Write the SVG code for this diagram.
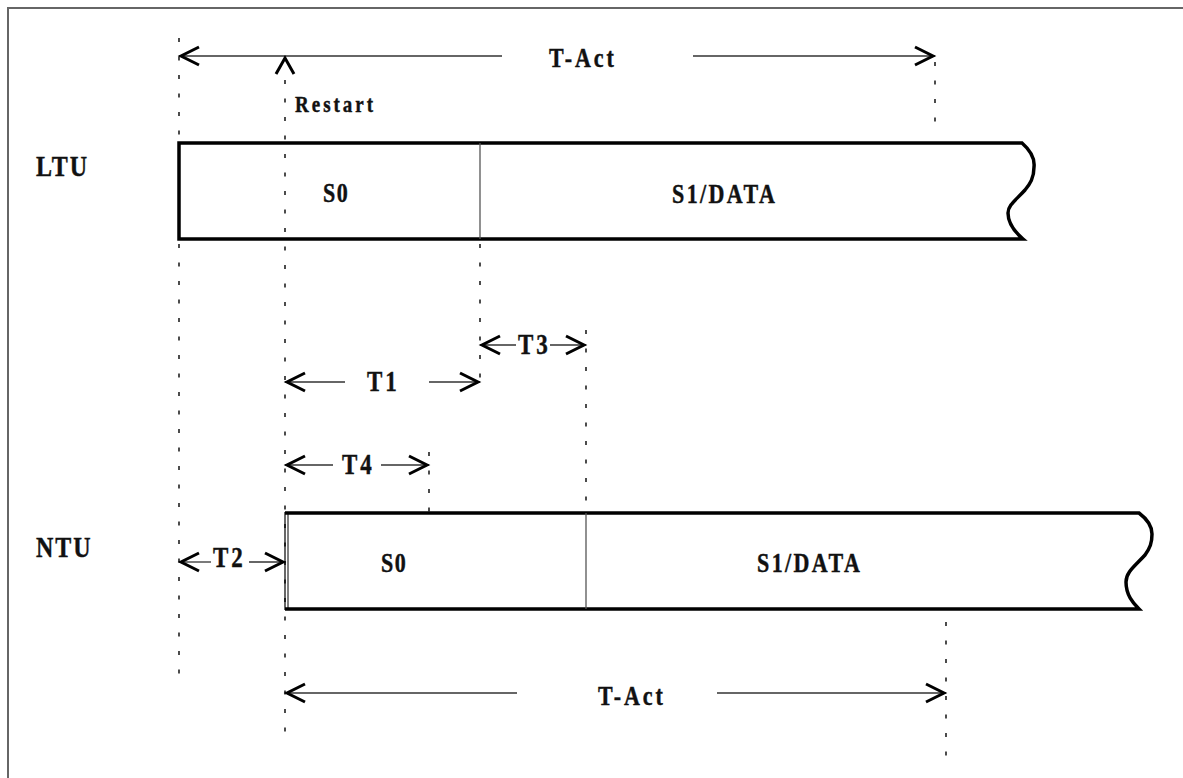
<svg xmlns="http://www.w3.org/2000/svg" width="1183" height="778" viewBox="0 0 1183 778">
<style>
  .t { font-family: "Liberation Serif", "Times New Roman", serif; font-weight: bold; fill: #111; stroke: #111; stroke-width: 0.35; }
  .bar { fill: none; stroke: #000; stroke-width: 3.5; stroke-linejoin: miter; }
  .div { stroke: #555; stroke-width: 1.3; }
  .dot { stroke: #000; stroke-width: 1.4; stroke-dasharray: 4 14.5; fill: none; }
  .dim { stroke: #333; stroke-width: 1.3; fill: none; marker-end: url(#ah); }
</style>
<defs>
  <marker id="ah" markerUnits="userSpaceOnUse" markerWidth="26" markerHeight="26" refX="21" refY="11" orient="auto" overflow="visible">
    <path d="M1,2 L19,11 L1,20" fill="none" stroke="#000" stroke-width="3"/>
  </marker>
</defs>
<rect width="1183" height="778" fill="#fff"/>
<path d="M8,778 V8 H1183" fill="none" stroke="#666" stroke-width="2"/>

<g id="connectors">
  <line class="dot" x1="179" y1="38" x2="179" y2="143"/>
  <line class="dot" x1="179" y1="244" x2="179" y2="688"/>
  <line class="dot" x1="285" y1="80" x2="285" y2="732"/>
  <line class="dot" x1="480" y1="244" x2="480" y2="390"/>
  <line class="dot" x1="586" y1="330" x2="586" y2="513"/>
  <line class="dot" x1="429" y1="452" x2="429" y2="513"/>
  <line class="dot" x1="935" y1="62" x2="935" y2="122"/>
  <line class="dot" x1="946" y1="622" x2="946" y2="762"/>
  <line class="dim" x1="502" y1="56" x2="179" y2="56"/>
  <line class="dim" x1="693" y1="56" x2="935" y2="56"/>
  <path d="M276,74 L285,58 L294,74" fill="none" stroke="#000" stroke-width="3"/>
  <line class="dim" x1="516" y1="345" x2="480" y2="345"/>
  <line class="dim" x1="550" y1="345" x2="586" y2="345"/>
  <line class="dim" x1="345" y1="382" x2="285" y2="382"/>
  <line class="dim" x1="429" y1="382" x2="480" y2="382"/>
  <line class="dim" x1="333" y1="465" x2="285" y2="465"/>
  <line class="dim" x1="381" y1="465" x2="429" y2="465"/>
  <line class="dim" x1="211" y1="562" x2="179" y2="562"/>
  <line class="dim" x1="249" y1="562" x2="285" y2="562"/>
  <line class="dim" x1="517" y1="693" x2="285" y2="693"/>
  <line class="dim" x1="717" y1="693" x2="946" y2="693"/>
  <text class="t" font-size="22" letter-spacing="3" transform="translate(549,67) scale(1,1.25)">T-Act</text>
  <text class="t" font-size="19" letter-spacing="3" transform="translate(295,112) scale(1,1.25)">Restart</text>
  <text class="t" font-size="23" letter-spacing="3" transform="translate(518,354) scale(1,1.25)">T3</text>
  <text class="t" font-size="23" letter-spacing="3" transform="translate(367,391) scale(1,1.25)">T1</text>
  <text class="t" font-size="23" letter-spacing="3" transform="translate(342,474) scale(1,1.25)">T4</text>
  <text class="t" font-size="23" letter-spacing="3" transform="translate(213,567) scale(1,1.25)">T2</text>
  <text class="t" font-size="22" letter-spacing="3" transform="translate(598,705) scale(1,1.25)">T-Act</text>
</g>

<g id="ltu">
  <text class="t" font-size="24" letter-spacing="2" transform="translate(36,176) scale(1,1.25)">LTU</text>
  <path class="bar" d="M1022,143 H179 V239 H1023 C1016,233 1008,225 1008,213 C1008,205 1016,200 1025,190 C1030,184 1034,178 1034,167 C1035,158 1030,150 1022,143 Z"/>
  <line class="div" x1="480" y1="143" x2="480" y2="239"/>
  <text class="t" font-size="22" letter-spacing="1.5" transform="translate(323,202) scale(1,1.25)">S0</text>
  <text class="t" font-size="22" letter-spacing="2.4" transform="translate(672,203) scale(1,1.25)">S1/DATA</text>
</g>

<g id="ntu">
  <text class="t" font-size="24" letter-spacing="2" transform="translate(36,557) scale(1,1.25)">NTU</text>
  <path class="bar" d="M285,513 H1139 C1147,519 1152,526 1152,534 C1152,543 1150,548 1145,555 C1135,566 1126,572 1126,582 C1126,595 1133,603 1139,609 H285"/>
  <line x1="285" y1="512" x2="285" y2="610" stroke="#000" stroke-width="1.2"/>
  <line x1="288" y1="513" x2="288" y2="609" stroke="#000" stroke-width="1"/>
  <line class="div" x1="586" y1="513" x2="586" y2="609"/>
  <text class="t" font-size="22" letter-spacing="1.5" transform="translate(381,572) scale(1,1.25)">S0</text>
  <text class="t" font-size="22" letter-spacing="2.4" transform="translate(757,572) scale(1,1.25)">S1/DATA</text>
</g>
</svg>
